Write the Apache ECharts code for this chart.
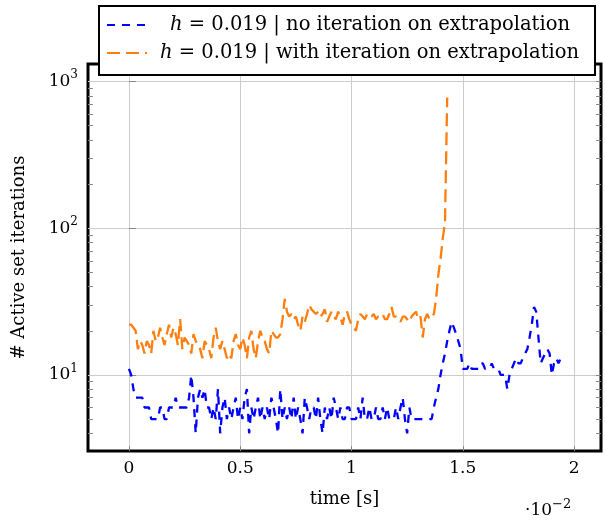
<!DOCTYPE html>
<html>
<head>
<meta charset="utf-8">
<script src="https://cdn.jsdelivr.net/npm/echarts@6/dist/echarts.min.js"></script>
<style>html,body{margin:0;padding:0;background:#fff}#c{width:605px;height:520px}</style>
</head>
<body>
<div id="c"></div>
<script>
// time step of the samples [s]
const dt = 0.0001;
const seriesNames = [
  'h = 0.019 | no iteration on extrapolation',
  'h = 0.019 | with iteration on extrapolation'
];
// active set iterations, no iteration on extrapolation (blue)
const blueValues = [
  11,10,8,7,7, 7,7,6,6,6, 5,5,5,5,6, 6,5,5,6,6, 6,7,6,6,6, 6,6,7,10,7, 4,7,8,7,8, 6,6,5,6,
  5,8,4,6,7, 5,6,5,6,7, 5,6,5,7,8, 4,6,5,6,7, 5,6,5,6,5, 7,6,5,4,8, 5,6,
  5,6,5,7,5, 6,5,4,7,6, 5,6,6,5,7, 5,4,6,5,6, 5,7,6,5,6, 5,5,6,6,5,
  5,5,6,5,7, 5,5,6,5,5, 6,5,5,6,5, 6,5,5,5,6, 5,6,7,5,4, 6,5,5,5,5, 5,5,5,5,5, 5,6,7,8,
  10,12,14,17,20, 23,21,19,17,15, 11,11,11,12,11, 11,11,11,12,12, 11,11,11,12,11, 11,11,10,10,10,
  8,10,11,12,13, 12,12,13,14,15, 18,22,29,27,18, 12,13,14,15,14, 10,12,13,12,13,12
];
// active set iterations, with iteration on extrapolation (orange)
const orangeValues = [
  22,22,21,20,15,17,16,14,17,16,
  14,20,17,18,21,18,16,19,22,18,
  21,19,16,24,15,18,17,16,14,19,
  17,16,15,13,17,16,15,13,18,21,
  17,15,17,15,13,14,13,17,19,16,
  15,18,16,13,18,20,15,13,17,20,
  18,17,15,14,20,19,18,18,19,24,
  33,27,25,26,24,25,
  22,20,25,23,26,30,28,27,26,27,
  25,26,28,23,25,27,25,24,27,25,
  22,26,27,24,22,21,20,24,26,25,
  24,26,25,25,26,24,25,25,26,24,
  24,26,29,25,25,24,23,25,25,24,
  23,25,26,27,24,25,18,24,26,24,
  25,26,33,48,62,85,110,780
];
const xTicks = [0, 0.005, 0.01, 0.015, 0.02];
const yTicks = [10, 100, 1000];
const yMinorTicks = [4,5,6,7,8,9,20,30,40,50,60,70,80,90,200,300,400,500,600,700,800,900];

const FONT = 'DejaVu Serif';
const xMin = -0.00184, xMax = 0.02121;
const yMin = 3.03, yMax = 1318;

const chart = echarts.init(document.getElementById('c'), null, {renderer: 'canvas'});
const supRich = {
  b: {fontFamily: FONT, fontSize: 17, color: '#000'},
  s: {fontFamily: FONT, fontSize: 12, color: '#000', padding: [0, 0, 13, 0]}
};
function minorAxis(pos, vals) {
  return {
    type: 'log', min: yMin, max: yMax, position: pos,
    axisLine: {show: false},
    axisTick: {show: true, inside: true, length: 5, customValues: vals, lineStyle: {color: '#888', width: 1}},
    axisLabel: {show: false},
    splitLine: {show: false}
  };
}
chart.setOption({
  animation: false,
  grid: {left: 88, right: 4, top: 64, bottom: 69, show: true, borderColor: '#000', borderWidth: 3, backgroundColor: 'transparent'},
  legend: {
    data: seriesNames,
    orient: 'vertical', left: 99, top: 6,
    padding: [9, 16, 12, 7],
    itemWidth: 40, itemHeight: 14, itemGap: 8,
    selectedMode: false,
    backgroundColor: '#fff', borderColor: '#000', borderWidth: 2,
    itemStyle: {color: 'rgba(0,0,0,0)', borderColor: 'rgba(0,0,0,0)', borderWidth: 0, opacity: 0},
    textStyle: {
      fontFamily: FONT, fontSize: 19.5, color: '#000',
      rich: {
        ib: {fontFamily: FONT, fontStyle: 'italic', fontSize: 19.5, color: '#000', lineHeight: 22, padding: [0, 0, 0, 18]},
        io: {fontFamily: FONT, fontStyle: 'italic', fontSize: 19.5, color: '#000', lineHeight: 22, padding: [0, 0, 0, 8]},
        t: {fontFamily: FONT, fontSize: 19.5, color: '#000', lineHeight: 22}
      }
    },
    formatter: function (name) {
      const idx = seriesNames.indexOf(name);
      return '{' + (idx === 0 ? 'ib' : 'io') + '|h}{t|' + name.slice(1) + '}';
    }
  },
  xAxis: [{
    type: 'value', min: xMin, max: xMax,
    axisLine: {show: false},
    axisTick: {show: true, inside: true, length: 5, customValues: xTicks, lineStyle: {color: '#888'}},
    axisLabel: {
      customValues: xTicks, margin: 9, fontFamily: FONT, fontSize: 17, color: '#000',
      formatter: function (v) { return String(parseFloat((v * 100).toFixed(3))); }
    },
    splitLine: {show: true, lineStyle: {color: '#cccccc', width: 1}},
    name: 'time [s]', nameLocation: 'middle', nameGap: 39,
    nameTextStyle: {fontFamily: FONT, fontSize: 18, color: '#000'}
  }],
  yAxis: [{
    type: 'log', min: yMin, max: yMax, position: 'left',
    axisLine: {show: false},
    axisTick: {show: true, inside: true, length: 7, customValues: yTicks, lineStyle: {color: '#888'}},
    axisLabel: {
      customValues: yTicks, margin: 10,
      formatter: function (v) {
        const e = Math.round(Math.log10(v));
        return '{b|10}{s|' + e + '}';
      },
      rich: supRich
    },
    splitLine: {show: true, lineStyle: {color: '#cccccc', width: 1}},
    name: '# Active set iterations', nameLocation: 'middle', nameGap: 60,
    nameTextStyle: {fontFamily: FONT, fontSize: 18, color: '#000'}
  },
  minorAxis('left', yMinorTicks),
  minorAxis('right', yMinorTicks.concat(yTicks))
  ],
  graphic: [{
    type: 'text', left: 525, top: 498, silent: true,
    style: {
      text: '{a|·10}{s|−2}',
      rich: {
        a: {fontFamily: FONT, fontSize: 17, fill: '#000', color: '#000'},
        s: {fontFamily: FONT, fontSize: 13, fill: '#000', color: '#000', padding: [0, 0, 13, 0]}
      }
    }
  }],
  series: [{
    name: seriesNames[0], type: 'line', xAxisIndex: 0, yAxisIndex: 0,
    data: blueValues.map((v, i) => [i * dt, v]),
    showSymbol: false, symbol: 'none',
    color: '#0000ff',
    lineStyle: {color: '#0000ff', width: 2.3, type: [8, 7]},
    z: 3
  }, {
    name: seriesNames[1], type: 'line', xAxisIndex: 0, yAxisIndex: 0,
    data: orangeValues.map((v, i) => [i * dt, v]),
    showSymbol: false, symbol: 'none',
    color: '#ff7f0e',
    lineStyle: {color: '#ff7f0e', width: 2.3, type: [13, 6]},
    z: 3
  }]
});
</script>
</body>
</html>
